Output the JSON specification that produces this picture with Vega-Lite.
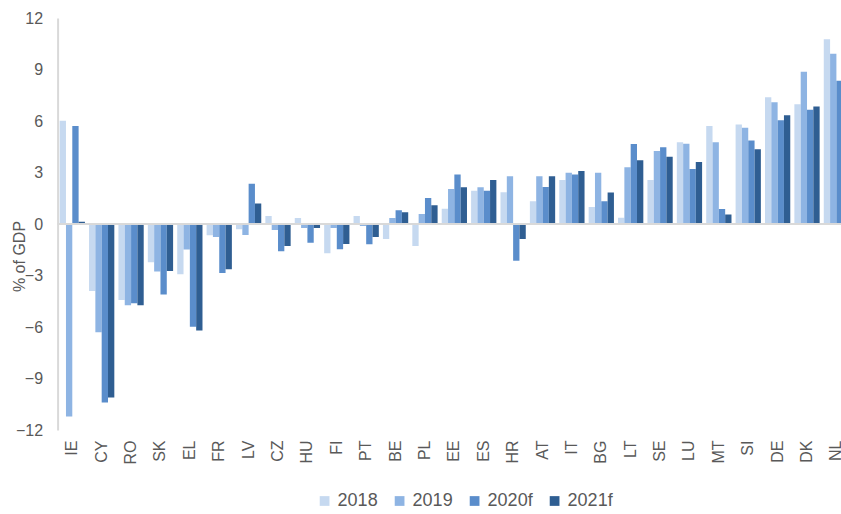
{
  "$schema": "https://vega.github.io/schema/vega-lite/v6.json",
  "width": 783.4,
  "height": 412,
  "autosize": {"type": "none"},
  "padding": {"left": 57.6, "top": 18, "right": 0, "bottom": 84},
  "config": {"view": {"stroke": null}, "font": "Liberation Sans"},
  "data": {"values": [
    {"c":"IE","s":"2018","v":6.02},{"c":"IE","s":"2019","v":-11.22},{"c":"IE","s":"2020f","v":5.71},{"c":"IE","s":"2021f","v":0.13},
    {"c":"CY","s":"2018","v":-3.9},{"c":"CY","s":"2019","v":-6.31},{"c":"CY","s":"2020f","v":-10.4},{"c":"CY","s":"2021f","v":-10.1},
    {"c":"RO","s":"2018","v":-4.43},{"c":"RO","s":"2019","v":-4.74},{"c":"RO","s":"2020f","v":-4.62},{"c":"RO","s":"2021f","v":-4.74},
    {"c":"SK","s":"2018","v":-2.23},{"c":"SK","s":"2019","v":-2.76},{"c":"SK","s":"2020f","v":-4.1},{"c":"SK","s":"2021f","v":-2.74},
    {"c":"EL","s":"2018","v":-2.93},{"c":"EL","s":"2019","v":-1.49},{"c":"EL","s":"2020f","v":-5.98},{"c":"EL","s":"2021f","v":-6.21},
    {"c":"FR","s":"2018","v":-0.66},{"c":"FR","s":"2019","v":-0.76},{"c":"FR","s":"2020f","v":-2.85},{"c":"FR","s":"2021f","v":-2.64},
    {"c":"LV","s":"2018","v":-0.31},{"c":"LV","s":"2019","v":-0.64},{"c":"LV","s":"2020f","v":2.35},{"c":"LV","s":"2021f","v":1.2},
    {"c":"CZ","s":"2018","v":0.47},{"c":"CZ","s":"2019","v":-0.35},{"c":"CZ","s":"2020f","v":-1.59},{"c":"CZ","s":"2021f","v":-1.28},
    {"c":"HU","s":"2018","v":0.35},{"c":"HU","s":"2019","v":-0.23},{"c":"HU","s":"2020f","v":-1.09},{"c":"HU","s":"2021f","v":-0.23},
    {"c":"FI","s":"2018","v":-1.71},{"c":"FI","s":"2019","v":-0.23},{"c":"FI","s":"2020f","v":-1.47},{"c":"FI","s":"2021f","v":-1.16},
    {"c":"PT","s":"2018","v":0.47},{"c":"PT","s":"2019","v":-0.12},{"c":"PT","s":"2020f","v":-1.18},{"c":"PT","s":"2021f","v":-0.76},
    {"c":"BE","s":"2018","v":-0.87},{"c":"BE","s":"2019","v":0.35},{"c":"BE","s":"2020f","v":0.8},{"c":"BE","s":"2021f","v":0.68},
    {"c":"PL","s":"2018","v":-1.28},{"c":"PL","s":"2019","v":0.58},{"c":"PL","s":"2020f","v":1.51},{"c":"PL","s":"2021f","v":1.09},
    {"c":"EE","s":"2018","v":0.89},{"c":"EE","s":"2019","v":2.04},{"c":"EE","s":"2020f","v":2.89},{"c":"EE","s":"2021f","v":2.14},
    {"c":"ES","s":"2018","v":1.94},{"c":"ES","s":"2019","v":2.14},{"c":"ES","s":"2020f","v":1.94},{"c":"ES","s":"2021f","v":2.56},
    {"c":"HR","s":"2018","v":1.85},{"c":"HR","s":"2019","v":2.78},{"c":"HR","s":"2020f","v":-2.14},{"c":"HR","s":"2021f","v":-0.87},
    {"c":"AT","s":"2018","v":1.32},{"c":"AT","s":"2019","v":2.78},{"c":"AT","s":"2020f","v":2.16},{"c":"AT","s":"2021f","v":2.78},
    {"c":"IT","s":"2018","v":2.56},{"c":"IT","s":"2019","v":2.99},{"c":"IT","s":"2020f","v":2.89},{"c":"IT","s":"2021f","v":3.09},
    {"c":"BG","s":"2018","v":0.99},{"c":"BG","s":"2019","v":2.99},{"c":"BG","s":"2020f","v":1.32},{"c":"BG","s":"2021f","v":1.84},
    {"c":"LT","s":"2018","v":0.37},{"c":"LT","s":"2019","v":3.3},{"c":"LT","s":"2020f","v":4.66},{"c":"LT","s":"2021f","v":3.71},
    {"c":"SE","s":"2018","v":2.56},{"c":"SE","s":"2019","v":4.25},{"c":"SE","s":"2020f","v":4.47},{"c":"SE","s":"2021f","v":3.92},
    {"c":"LU","s":"2018","v":4.76},{"c":"LU","s":"2019","v":4.68},{"c":"LU","s":"2020f","v":3.2},{"c":"LU","s":"2021f","v":3.61},
    {"c":"MT","s":"2018","v":5.71},{"c":"MT","s":"2019","v":4.76},{"c":"MT","s":"2020f","v":0.87},{"c":"MT","s":"2021f","v":0.56},
    {"c":"SI","s":"2018","v":5.8},{"c":"SI","s":"2019","v":5.61},{"c":"SI","s":"2020f","v":4.87},{"c":"SI","s":"2021f","v":4.35},
    {"c":"DE","s":"2018","v":7.38},{"c":"DE","s":"2019","v":7.09},{"c":"DE","s":"2020f","v":6.04},{"c":"DE","s":"2021f","v":6.33},
    {"c":"DK","s":"2018","v":6.97},{"c":"DK","s":"2019","v":8.87},{"c":"DK","s":"2020f","v":6.66},{"c":"DK","s":"2021f","v":6.85},
    {"c":"NL","s":"2018","v":10.76},{"c":"NL","s":"2019","v":9.92},{"c":"NL","s":"2020f","v":8.35},{"c":"NL","s":"2021f","v":8.0}
  ]},
  "layer": [
    {
      "mark": {"type": "bar", "clip": true},
      "encoding": {
        "x": {
          "field": "c", "type": "nominal", "sort": null,
          "scale": {"range": [0, 793.5], "paddingInner": 0.14, "paddingOuter": 0.07},
          "axis": {"title": null, "domain": false, "ticks": false, "grid": false, "labelAngle": -90, "labelPadding": 10, "labelFontSize": 16, "labelColor": "#595959"}
        },
        "xOffset": {"field": "s", "type": "nominal", "scale": {"paddingInner": 0, "paddingOuter": 0}},
        "y": {
          "field": "v", "type": "quantitative",
          "scale": {"domain": [-12, 12], "nice": false},
          "axis": {"values": [-12, -9, -6, -3, 0, 3, 6, 9, 12], "grid": false, "ticks": false, "domainColor": "#d9d9d9", "domainWidth": 2, "labelFontSize": 16, "labelColor": "#595959", "labelPadding": 15, "title": "% of GDP", "titleFontSize": 16, "titleFontWeight": "normal", "titleColor": "#595959", "titleX": -38, "titleY": 238, "titleAngle": -90, "titleAlign": "center", "titleBaseline": "middle"}
        },
        "color": {
          "field": "s", "type": "nominal",
          "scale": {"domain": ["2018", "2019", "2020f", "2021f"], "range": ["#c6d9f0", "#8eb4e3", "#5a8dcb", "#2f5e92"]},
          "legend": {"title": null, "orient": "none", "direction": "horizontal", "legendX": 258, "legendY": 474, "symbolType": "square", "symbolSize": 95, "symbolStrokeWidth": 0, "labelFontSize": 18, "labelColor": "#595959", "labelOffset": 4, "columnPadding": 12}
        }
      }
    },
    {
      "mark": {"type": "rule", "color": "#d9d9d9", "strokeWidth": 2},
      "encoding": {"y": {"datum": 0}}
    }
  ]
}
